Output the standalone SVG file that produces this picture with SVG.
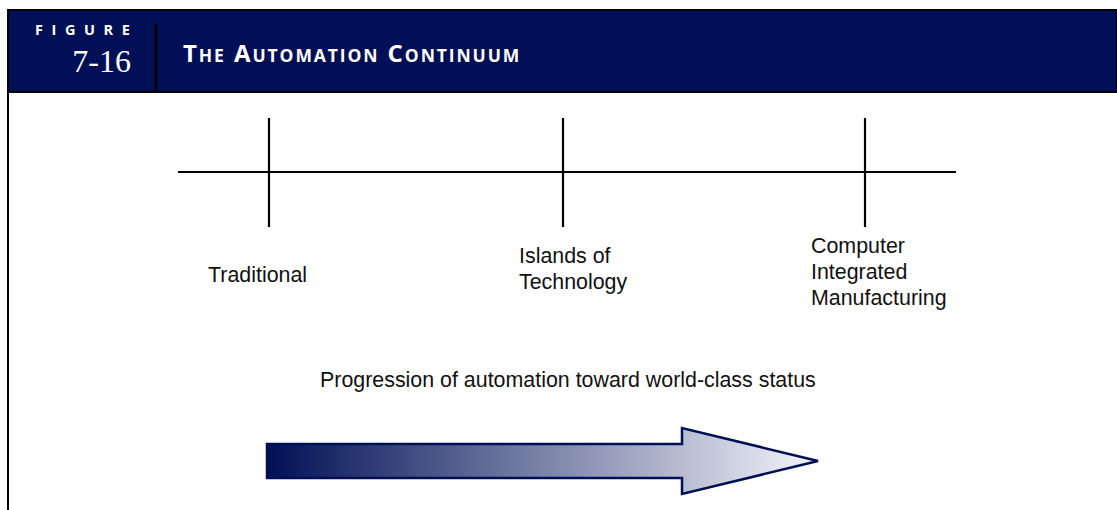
<svg xmlns="http://www.w3.org/2000/svg" width="1117" height="510" viewBox="0 0 1117 510">
<style>
.lbl{font-family:"Liberation Sans",Arial,sans-serif;font-size:21.4px;fill:#111}
.ln{stroke:#000;stroke-width:2.2;fill:none}
.hd{font-family:"Open Sans",Lato,sans-serif;font-weight:bold;fill:#fff}
</style>
<defs>
<linearGradient id="g" x1="267" y1="0" x2="818" y2="0" gradientUnits="userSpaceOnUse">
<stop offset="0" stop-color="#001055"/>
<stop offset="1" stop-color="#f4f5fa"/>
</linearGradient>
</defs>
<rect width="1117" height="510" fill="#fff"/>
<g id="header">
<rect x="8" y="10" width="1109" height="82" fill="#000f56" stroke="#000" stroke-width="2"/>
<line x1="156" y1="24" x2="156" y2="92" stroke="#000" stroke-width="2.4"/>
<text class="hd" x="35" y="35" font-size="14.5" letter-spacing="8.6">FIGURE</text>
<text x="131" y="72" text-anchor="end" font-family="Liberation Serif,serif" font-size="32" fill="#fff">7-16</text>
<text class="hd" x="183" y="62" font-size="24" letter-spacing="1.9">T<tspan font-size="17.5">HE</tspan> A<tspan font-size="17.5">UTOMATION</tspan> C<tspan font-size="17.5">ONTINUUM</tspan></text>
</g>
<line x1="8" y1="92" x2="8" y2="510" stroke="#000" stroke-width="2"/>
<g id="connectors">
<line class="ln" x1="178" y1="172" x2="956" y2="172"/>
</g>
<g id="traditional">
<line class="ln" x1="269" y1="118" x2="269" y2="227"/>
<text class="lbl" x="208" y="282">Traditional</text>
</g>
<g id="islands">
<line class="ln" x1="563" y1="118" x2="563" y2="227"/>
<text class="lbl" x="519" y="263">Islands of</text>
<text class="lbl" x="519" y="289">Technology</text>
</g>
<g id="cim">
<line class="ln" x1="865" y1="118" x2="865" y2="227"/>
<text class="lbl" x="811" y="253">Computer</text>
<text class="lbl" x="811" y="279">Integrated</text>
<text class="lbl" x="811" y="305">Manufacturing</text>
</g>
<g id="progression">
<text class="lbl" x="320" y="387">Progression of automation toward world-class status</text>
<path d="M267,444 L682,444 L682,428 L818,461 L682,494 L682,478 L267,478 Z" fill="url(#g)" stroke="#001055" stroke-width="2.5" stroke-linejoin="miter"/>
</g>
</svg>
